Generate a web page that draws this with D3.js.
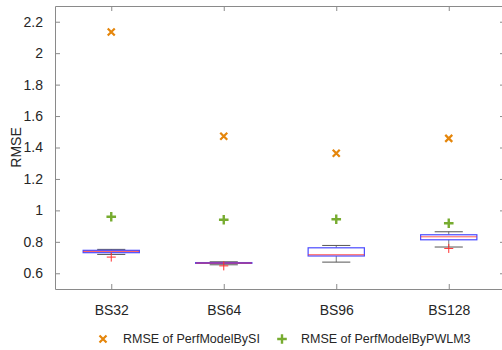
<!DOCTYPE html>
<html>
<head>
<meta charset="utf-8">
<script src="https://cdn.jsdelivr.net/npm/d3@7"></script>
<style>
  html, body { margin: 0; padding: 0; background: #fff; }
  svg { display: block; font-family: "Liberation Sans", Arial, sans-serif; }
</style>
</head>
<body>
<svg id="chart" width="502" height="350"></svg>
<script>
// Batch-size groups
const categories = ["BS32", "BS64", "BS96", "BS128"];

// Box statistics per group
const whiskerLow  = [0.720, 0.654, 0.671, 0.767];
const q1          = [0.731, 0.663, 0.710, 0.813];
const median      = [0.739, 0.665, 0.718, 0.832];
const q3          = [0.746, 0.668, 0.762, 0.845];
const whiskerHigh = [0.752, 0.673, 0.777, 0.864];
const outliers    = [[0.703], [0.647], [], [0.758]];

// Model errors overlaid on each group
const rmseSI    = [2.135, 1.472, 1.363, 1.458];
const rmsePWLM3 = [0.960, 0.940, 0.944, 0.918];

const yTicks = [0.6, 0.8, 1, 1.2, 1.4, 1.6, 1.8, 2, 2.2];

const svg = d3.select("#chart");
const plotLeft = 55, plotRight = 505, plotTop = 6, plotBottom = 289;

const x = d3.scaleLinear().domain([0.5, categories.length + 0.5]).range([plotLeft, plotRight]);
const y = d3.scaleLinear().domain([0.5, 2.3]).range([plotBottom, plotTop]);

const axisColor = "#8a8a8a";
const textColor = "#262626";
const orange = "#e5860b";
const green = "#77ac30";

// Axes: ticks point inward on all four sides
const g = svg.append("g");
const yAxisL = d3.axisLeft(y).tickValues(yTicks).tickFormat(d3.format("~g")).tickSizeInner(-5).tickSizeOuter(0).tickPadding(12);
const yAxisR = d3.axisRight(y).tickValues(yTicks).tickFormat("").tickSizeInner(-5).tickSizeOuter(0);
const xAxisB = d3.axisBottom(x).tickValues(d3.range(1, categories.length + 1)).tickFormat(i => categories[i - 1]).tickSizeInner(-5).tickSizeOuter(0).tickPadding(16);
const xAxisT = d3.axisTop(x).tickValues(d3.range(1, categories.length + 1)).tickFormat("").tickSizeInner(-5).tickSizeOuter(0);

g.append("g").attr("transform", `translate(${plotLeft},0)`).call(yAxisL);
g.append("g").attr("transform", `translate(${plotRight},0)`).call(yAxisR);
g.append("g").attr("transform", `translate(0,${plotBottom})`).call(xAxisB);
g.append("g").attr("transform", `translate(0,${plotTop})`).call(xAxisT);

g.selectAll(".domain, .tick line").attr("stroke", axisColor).attr("stroke-width", 1);
g.selectAll(".tick text").attr("fill", textColor).style("font-size", "14px");

// Y axis title
svg.append("text")
  .attr("transform", `translate(21,${(plotTop + plotBottom) / 2}) rotate(-90)`)
  .attr("text-anchor", "middle")
  .attr("fill", textColor)
  .style("font-size", "14px")
  .text("RMSE");

// Boxplots
const boxHalf = 0.25, capHalf = 0.125;
const boxes = svg.append("g");
categories.forEach((c, i) => {
  const cx = x(i + 1);
  const bw = x(1 + boxHalf) - x(1);
  const cw = x(1 + capHalf) - x(1);
  const bg = boxes.append("g");
  // whisker stems
  bg.append("line").attr("x1", cx).attr("x2", cx).attr("y1", y(q3[i])).attr("y2", y(whiskerHigh[i]))
    .attr("stroke", "#7a7a7a").attr("stroke-width", 1);
  bg.append("line").attr("x1", cx).attr("x2", cx).attr("y1", y(q1[i])).attr("y2", y(whiskerLow[i]))
    .attr("stroke", "#7a7a7a").attr("stroke-width", 1);
  // whisker caps
  [whiskerHigh[i], whiskerLow[i]].forEach(v => {
    bg.append("line").attr("x1", cx - cw).attr("x2", cx + cw).attr("y1", y(v)).attr("y2", y(v))
      .attr("stroke", "#555").attr("stroke-width", 1);
  });
  // box
  bg.append("rect")
    .attr("x", cx - bw).attr("width", 2 * bw)
    .attr("y", y(q3[i])).attr("height", Math.max(0.5, y(q1[i]) - y(q3[i])))
    .attr("fill", "none").attr("stroke", "#4a4aff").attr("stroke-width", 1.2);
  // median
  bg.append("line").attr("x1", cx - bw).attr("x2", cx + bw).attr("y1", y(median[i])).attr("y2", y(median[i]))
    .attr("stroke", "#ff3030").attr("stroke-width", 1).attr("stroke-opacity", 0.8);
  // outliers
  outliers[i].forEach(v => {
    const oy = y(v);
    bg.append("path").attr("d", `M${cx - 4.5},${oy}H${cx + 4.5}M${cx},${oy - 4.5}V${oy + 4.5}`)
      .attr("stroke", "#ff3030").attr("stroke-width", 1).attr("fill", "none");
  });
});

// Marker shapes
function crossPath(cx, cy, r) {
  return `M${cx - r},${cy - r}L${cx + r},${cy + r}M${cx - r},${cy + r}L${cx + r},${cy - r}`;
}
function plusPath(cx, cy, r) {
  return `M${cx - r},${cy}H${cx + r}M${cx},${cy - r}V${cy + r}`;
}

const marks = svg.append("g");
marks.selectAll(".si").data(rmseSI).join("path")
  .attr("d", (v, i) => crossPath(x(i + 1), y(v), 3.5))
  .attr("stroke", orange).attr("stroke-width", 2.2).attr("fill", "none");
marks.selectAll(".pw").data(rmsePWLM3).join("path")
  .attr("d", (v, i) => plusPath(x(i + 1), y(v), 4.8))
  .attr("stroke", green).attr("stroke-width", 2.4).attr("fill", "none");

// Legend
const legend = svg.append("g").style("font-size", "12.5px").attr("fill", textColor);
const ly = 339;
legend.append("path").attr("d", crossPath(103, ly, 3.5)).attr("stroke", orange).attr("stroke-width", 2.2).attr("fill", "none");
legend.append("text").attr("x", 123).attr("y", ly).attr("dy", "0.35em").text("RMSE of PerfModelBySI");
legend.append("path").attr("d", plusPath(282, ly, 4.8)).attr("stroke", green).attr("stroke-width", 2.4).attr("fill", "none");
legend.append("text").attr("x", 301).attr("y", ly).attr("dy", "0.35em").text("RMSE of PerfModelByPWLM3");
</script>
</body>
</html>
